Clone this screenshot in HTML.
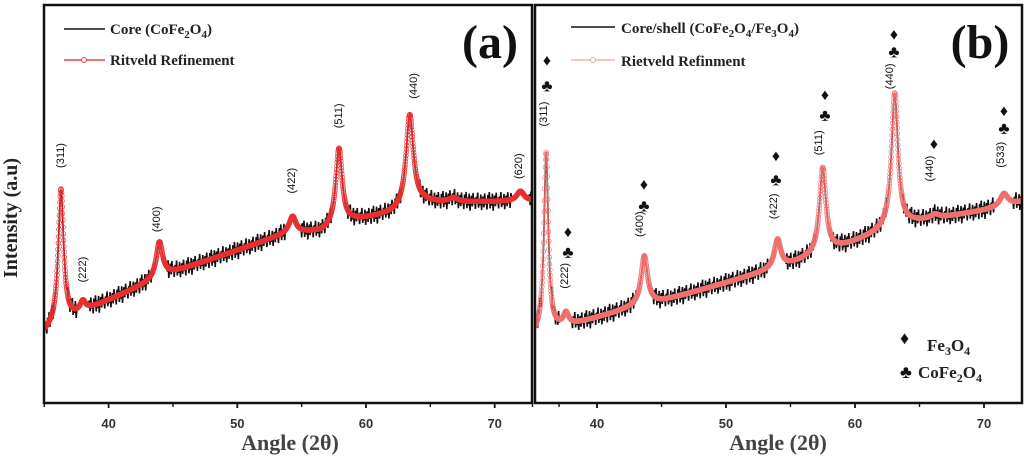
<!DOCTYPE html>
<html><head><meta charset="utf-8"><style>
body{margin:0;background:#fff;}
svg{display:block;font-family:"Liberation Serif",serif;}
.tk{font-family:"Liberation Sans",sans-serif;font-weight:bold;font-size:13px;fill:#333;}
.hkl{font-family:"Liberation Sans",sans-serif;font-size:11px;fill:#111;}
.lg{font-weight:bold;font-size:15px;fill:#222;}
</style></head><body>
<svg id="chart" width="1024" height="457" viewBox="0 0 1024 457">
<g id="pa"></g>
<g id="pb"></g>
<text x="17" y="218" transform="rotate(-90 17 218)" text-anchor="middle" font-weight="bold" font-size="20" fill="#222">Intensity (a.u)</text>
<text x="290" y="450" text-anchor="middle" font-weight="bold" font-size="22" fill="#444">Angle (2θ)</text>
<text x="778" y="450" text-anchor="middle" font-weight="bold" font-size="22" fill="#444">Angle (2θ)</text>
<line x1="64" y1="29" x2="105" y2="29" stroke="#111" stroke-width="1.5"/>
<text x="110" y="34" class="lg">Core (CoFe<tspan font-size="11" dy="4">2</tspan><tspan dy="-4">O</tspan><tspan font-size="11" dy="4">4</tspan><tspan dy="-4">)</tspan></text>
<line x1="64" y1="60" x2="105" y2="60" stroke="#e44" stroke-width="1.5"/>
<circle cx="84" cy="60" r="2.5" fill="#fff" stroke="#e44"/>
<text x="110" y="65" class="lg">Ritveld Refinement</text>
<text x="490" y="58" text-anchor="middle" font-weight="bold" font-size="48" fill="#111">(a)</text>
<line x1="571" y1="27" x2="615" y2="27" stroke="#111" stroke-width="1.5"/>
<text x="621" y="33" class="lg">Core/shell (CoFe<tspan font-size="11" dy="4">2</tspan><tspan dy="-4">O</tspan><tspan font-size="11" dy="4">4</tspan><tspan dy="-4">/Fe</tspan><tspan font-size="11" dy="4">3</tspan><tspan dy="-4">O</tspan><tspan font-size="11" dy="4">4</tspan><tspan dy="-4">)</tspan></text>
<line x1="571" y1="60" x2="615" y2="60" stroke="#f3b0b0" stroke-width="1.5"/>
<circle cx="593" cy="60" r="2.5" fill="#fff" stroke="#f0a0a0"/>
<text x="621" y="66" class="lg">Rietveld Refinment</text>
<text x="980" y="58" text-anchor="middle" font-weight="bold" font-size="48" fill="#111">(b)</text>
<text x="900" y="344" font-size="18" fill="#111">♦</text>
<text x="927" y="351" font-size="17" font-weight="bold" fill="#222">Fe<tspan font-size="12" dy="4">3</tspan><tspan dy="-4">O</tspan><tspan font-size="12" dy="4">4</tspan></text>
<text x="900" y="378" font-size="18" fill="#111">♣</text>
<text x="918" y="378" font-size="17" font-weight="bold" fill="#222">CoFe<tspan font-size="12" dy="4">2</tspan><tspan dy="-4">O</tspan><tspan font-size="12" dy="4">4</tspan></text>
</svg>
<script>
// ---- data ----
const bgAngleA=[35,38.5,44.5,54,56.5,59,62.5,64.5,72.9];
const bgValA=[17.3,23.4,32.1,42.6,42.8,45.5,47.7,50.1,50.6];
const peakPosA=[36.3,38.0,43.95,54.3,57.9,63.4,66.8,72.0];
const peakHtA=[34,2.5,9,4,19.5,23.5,1,2.5];
const peakWA=[0.25,0.25,0.3,0.3,0.3,0.35,0.4,0.35];
const bgAngleB=[35.2,38.5,43,45,53.5,55,59,62.5,64.5,70,73];
const bgValB=[19,21.9,26,27.3,35,36.3,40.6,44.8,46.5,49.6,51.8];
const peakPosB=[36.06,37.6,43.67,54.0,57.5,63.08,66.2,71.55];
const peakHtB=[44,3,12,7,21,33,1,3];
const peakWB=[0.2,0.25,0.3,0.3,0.3,0.3,0.4,0.35];
const jitter=[1.2,-1.5,2.0,-0.8,0.5,-2.1,1.6,-0.4,2.3,-1.8,0.9,-1.1,1.9,-2.4,0.3,1.4,-1.3,2.1,-0.7,0.8,-1.9,1.1,-0.2,2.2,-1.6,0.6,-1.0,1.7,-2.2,0.4];
const ticks=[40,50,60,70];
const hklA=[["(311)",64,165],["(222)",86,283],["(400)",160,231],["(422)",295,191],["(511)",342,124],["(440)",417,93],["(620)",522,176]];
const hklB=[["(311)",547,119],["(222)",568,282],["(400)",643,230],["(422)",777,212],["(511)",822,148],["(440)",893,81],["(440)",933,174],["(533)",1004,160]];
const symB=[[547,60,86],[568,233,254],[644,185,207],[776,156,181],[825,95,116],[894,34,52],[934,144,null],[1004,111,129]];
const NS="http://www.w3.org/2000/svg";
function mk(p,t,a){const e=document.createElementNS(NS,t);for(const k in a)e.setAttribute(k,a[k]);p.appendChild(e);return e;}
function interp(xs,ys,x){if(x<=xs[0])return ys[0];for(let i=1;i<xs.length;i++)if(x<=xs[i])return ys[i-1]+(ys[i]-ys[i-1])*(x-xs[i-1])/(xs[i]-xs[i-1]);return ys[ys.length-1];}
const BOT=403;
function panel(g,cfg){
  const X=a=>cfg.px0+(a-cfg.a0)*cfg.k, Y=v=>(416-v*4.11)*cfg.ys;
  const fit=a=>{let v=interp(cfg.bgA,cfg.bgV,a);for(let i=0;i<cfg.pp.length;i++){const d=(a-cfg.pp[i])/cfg.pw[i];v+=cfg.ph[i]/(1+d*d);}return v;};
  const clip='c'+cfg.id;const cp=mk(mk(g,'defs',{}),'clipPath',{id:clip});mk(cp,'rect',{x:cfg.L,y:5,width:cfg.R-cfg.L,height:BOT-5});
  const gg=mk(g,'g',{'clip-path':'url(#'+clip+')'});
  let pts=[],i=0;
  for(let a=cfg.aStart;a<=cfg.aEnd;a+=0.06,i++){const near=cfg.pp.some((p,j)=>Math.abs(a-p)<cfg.pw[j]*2&&cfg.ph[j]>2);pts.push(X(a).toFixed(1)+','+Y(fit(a)+(near?0:jitter[i%jitter.length])).toFixed(1));}
  const obs=mk(gg,'polyline',{points:pts.join(' '),fill:'none',stroke:'#111','stroke-width':1.6});
  
  
  const fg=mk(gg,'g',{});
  
  
  let fp=[];
  for(let a=cfg.aStart;a<=cfg.aEnd;a+=0.02){fp.push(X(a).toFixed(1)+','+Y(fit(a)).toFixed(1));}
  mk(fg,'polyline',{points:fp.join(' '),fill:'none',stroke:cfg.line,'stroke-width':1.2});
  for(let a=cfg.aStart;a<=cfg.aEnd;a+=0.02){mk(fg,'circle',{cx:X(a).toFixed(1),cy:Y(fit(a)).toFixed(1),r:2.4,fill:'none',stroke:cfg.circ,'stroke-width':0.6});}
  const fr=mk(g,'rect',{x:cfg.L,y:5,width:cfg.R-cfg.L,height:BOT-5,fill:'none',stroke:'#111','stroke-width':2.5});
  
  
  ticks.forEach(t=>{const x=X(t);mk(g,'line',{x1:x,y1:BOT,x2:x,y2:BOT+5,stroke:'#111','stroke-width':1.8});
    const tl=mk(g,'text',{x:x,y:428,'text-anchor':'middle',class:'tk'});tl.textContent=t;
    
    
    mk(g,'line',{x1:X(t+5),y1:BOT,x2:X(t+5),y2:BOT+4,stroke:'#111','stroke-width':1.4});});
  mk(g,'line',{x1:X(35),y1:BOT,x2:X(35),y2:BOT+4,stroke:'#111','stroke-width':1.4});
  cfg.hkl.forEach(h=>{const yy=h[2]*cfg.ys;const t=mk(g,'text',{x:h[1]+4,y:yy,'text-anchor':'middle',class:'hkl',transform:`rotate(-90 ${h[1]} ${yy})`});t.textContent=h[0];
    
    });
}
panel(document.getElementById('pa'),{id:'a',ys:2.9/3,px0:108.6,a0:40,k:12.87,L:44,R:532,aStart:34.9,aEnd:73.2,bgA:bgAngleA,bgV:bgValA,pp:peakPosA,ph:peakHtA,pw:peakWA,line:'#e8201c',circ:'#e83030',hkl:hklA});
panel(document.getElementById('pb'),{id:'b',ys:2.976/3,px0:597,a0:40,k:12.9,L:535,R:1022,aStart:35.1,aEnd:73.2,bgA:bgAngleB,bgV:bgValB,pp:peakPosB,ph:peakHtB,pw:peakWB,line:'#f06060',circ:'#f07070',hkl:hklB});
const pb=document.getElementById('pb');
const ysb=2.976/3;
symB.forEach(s=>{const d=mk(pb,'text',{x:s[0],y:s[1]*ysb+6,'text-anchor':'middle','font-size':16,fill:'#111'});d.textContent='♦';
  
  
  if(s[2]!==null){const c=mk(pb,'text',{x:s[0],y:s[2]*ysb+6,'text-anchor':'middle','font-size':17,fill:'#111'});c.textContent='♣';
  
  }});
</script>
</body></html>
